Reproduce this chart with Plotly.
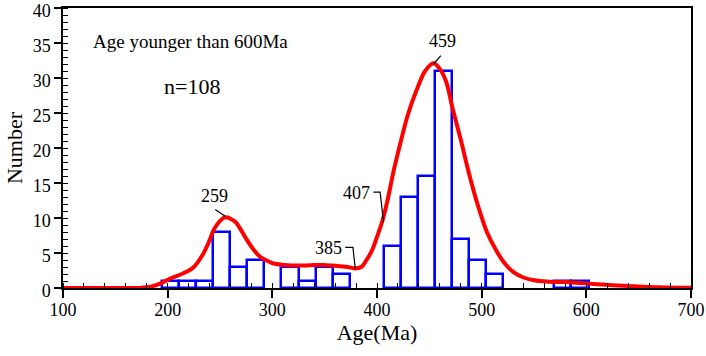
import plotly.graph_objects as go

# ---- data ----
bin_start = 194.6          # Ma, left edge of first histogram bin
bin_width = 16.3           # Ma
counts = [1, 1, 1, 8, 3, 4, 0, 3, 1, 3, 2, 0, 0, 6, 13, 16, 31, 7, 4, 2, 0, 0, 0, 1, 1]

curve_age = [100, 150, 175, 184, 194, 203, 215, 225, 234, 240, 244, 250, 255, 260, 265,
             270, 276, 282, 288, 295, 301, 312, 323, 336, 349, 358, 365, 372, 379, 385,
             390, 395, 400, 405, 410, 416, 422, 430, 439, 446, 454, 460, 466, 472, 480,
             488, 496, 505, 513, 521, 530, 540, 550, 565, 580, 595, 610, 625, 645, 670, 700]
curve_n = [0, 0, 0.05, 0.2, 0.7, 1.4, 2.1, 3.0, 4.9, 6.8, 8.3, 9.6, 10.1, 9.9, 9.4,
           8.3, 6.8, 5.5, 4.5, 3.9, 3.5, 3.3, 3.2, 3.25, 3.3, 3.2, 3.1, 3.0, 2.8, 3.0,
           4.0, 5.3, 7.3, 9.5, 12.5, 16.8, 20.5, 25.0, 28.7, 31.0, 32.1, 31.3, 29.5, 25.8, 21.2,
           16.3, 12.0, 8.0, 5.6, 3.7, 2.3, 1.5, 1.1, 0.9, 0.85, 0.7, 0.55, 0.4, 0.25, 0.1, 0.03]

peak_labels = ["259", "385", "407", "459"]

x_ticks = [100, 200, 300, 400, 500, 600, 700]
y_ticks = [0, 5, 10, 15, 20, 25, 30, 35, 40]

# ---- figure ----
centers = [bin_start + bin_width * (i + 0.5) for i in range(len(counts))]
bar_y = [c if c > 0 else None for c in counts]

FONT = "Liberation Serif"
fig = go.Figure()
fig.add_trace(go.Bar(
    x=centers, y=bar_y, width=bin_width,
    marker=dict(color="rgba(255,255,255,0)", line=dict(color="#0000FF", width=2.5)),
    hoverinfo="skip", showlegend=False,
))
fig.add_trace(go.Scatter(
    x=curve_age, y=curve_n, mode="lines",
    line=dict(color="#FF0000", width=4, shape="spline", smoothing=1.0),
    hoverinfo="skip", showlegend=False,
))

# leader lines
leaders = [
    [(245.4, 11.2), (255.0, 10.25)],
    [(369.6, 5.8), (377.0, 5.8), (379.2, 2.8)],
    [(396.6, 13.7), (403.0, 13.7), (406.2, 9.4)],
    [(461.0, 33.2), (454.0, 32.0)],
]
label_pos = [(245, 13.2), (354, 5.7), (380, 13.6), (462.2, 35.3)]
for pts, txt, (tx, ty) in zip(leaders, peak_labels, label_pos):
    fig.add_trace(go.Scatter(
        x=[p[0] for p in pts], y=[p[1] for p in pts], mode="lines",
        line=dict(color="black", width=1.2), hoverinfo="skip", showlegend=False,
    ))
    fig.add_annotation(x=tx, y=ty, text=txt, showarrow=False,
                       font=dict(family=FONT, size=18, color="black"))

fig.add_annotation(x=221.7, y=35.2, text="Age younger than 600Ma", showarrow=False,
                   font=dict(family=FONT, size=19, color="black"))
fig.add_annotation(x=223.5, y=28.75, text="n=108", showarrow=False,
                   font=dict(family=FONT, size=22, color="black"))

fig.update_layout(
    width=706, height=356,
    margin=dict(l=63, r=15, t=8, b=68, autoexpand=False),
    paper_bgcolor="white", plot_bgcolor="white",
    bargap=0,
    font=dict(family=FONT, color="black"),
)
fig.update_xaxes(
    automargin=False, ticklabeloverflow="allow", ticklabelstandoff=-3,
    range=[100, 700], tickvals=x_ticks, ticktext=[str(v) for v in x_ticks],
    showgrid=False, zeroline=False,
    showline=True, linecolor="black", linewidth=1.5, mirror=True,
    ticks="outside", ticklen=8, tickwidth=1.5, tickcolor="black",
    tickfont=dict(family=FONT, size=18, color="black"),
    minor=dict(dtick=20, tick0=100, ticks="inside", ticklen=5, tickwidth=1.2, tickcolor="black"),
    title=dict(text="Age(Ma)", font=dict(family=FONT, size=22, color="black"), standoff=4),
)
fig.update_yaxes(
    automargin=False, ticklabeloverflow="allow", ticklabelshift=3,
    range=[0, 40], tickvals=y_ticks, ticktext=[str(v) for v in y_ticks],
    showgrid=False, zeroline=False,
    showline=True, linecolor="black", linewidth=1.5, mirror=True,
    ticks="outside", ticklen=7, tickwidth=1.5, tickcolor="black",
    tickfont=dict(family=FONT, size=18, color="black"),
    minor=dict(dtick=1, tick0=0, ticks="inside", ticklen=5, tickwidth=1.2, tickcolor="black"),
    title=dict(text="Number", font=dict(family=FONT, size=22, color="black"), standoff=4),
)

fig.write_html("out.html", config={"displayModeBar": False},
               post_script="document.body.style.margin='0';")
